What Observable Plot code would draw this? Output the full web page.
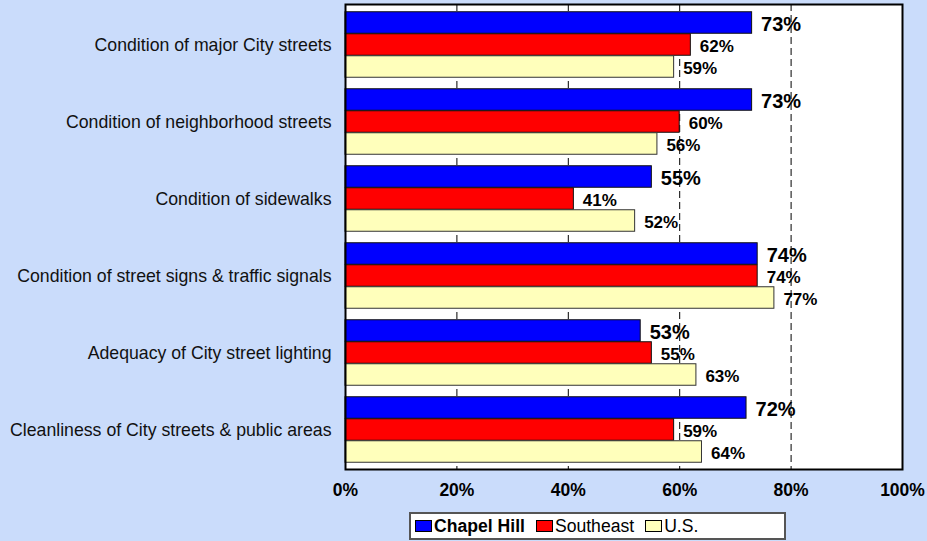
<!DOCTYPE html>
<html>
<head>
<meta charset="utf-8">
<script src="https://cdn.jsdelivr.net/npm/d3@7"></script>
<script src="https://cdn.jsdelivr.net/npm/@observablehq/plot@0.6"></script>
<style>
  html, body { margin: 0; padding: 0; }
  body {
    width: 927px; height: 541px; overflow: hidden; position: relative;
    background: rgb(202, 220, 251);
    font-family: "Liberation Sans", Arial, sans-serif;
  }
  #chart { position: absolute; left: 0; top: 0; }
  #legend {
    position: absolute; left: 409px; top: 512px; width: 369px; height: 24px;
    background: #fff; border: 2px solid #555;
    display: flex; align-items: center; padding-left: 4px; box-sizing: content-box;
    font-size: 17.6px; color: #000;
  }
  .item { display: flex; align-items: center; margin-right: 11px; }
  .key { width: 15px; height: 10px; border: 1px solid #000; margin-right: 2px; }
</style>
</head>
<body>
<div id="chart"></div>
<div id="legend"></div>
<script>
const categories = [
  "Condition of major City streets",
  "Condition of neighborhood streets",
  "Condition of sidewalks",
  "Condition of street signs & traffic signals",
  "Adequacy of City street lighting",
  "Cleanliness of City streets & public areas"
];
const chapelHill = [73, 73, 55, 74, 53, 72];
const southeast  = [62, 60, 41, 74, 55, 59];
const us         = [59, 56, 52, 77, 63, 64];
const seriesNames  = ["Chapel Hill", "Southeast", "U.S."];
const seriesColors = ["#0000FF", "#FF0000", "#FFFFBB"];
const xTicks    = [0, 20, 40, 60, 80, 100];
const gridLines = [20, 40, 60, 80];

const seriesValues = [chapelHill, southeast, us];
const FONT = "Liberation Sans, Arial, sans-serif";

const W = 927, H = 505;
const mTop = 4, mLeft = 345, mRight = 25, mBottom = H - 469;
const band = (H - mBottom - mTop) / categories.length;
const barH = 22;
const off = (band - 3 * barH) / 2;

const marks = [
  Plot.frame({fill: "white", stroke: null}),
  Plot.ruleX(gridLines, {stroke: "#000", strokeWidth: 1, strokeDasharray: "7,4"})
];

seriesValues.forEach((vals, k) => {
  const data = categories.map((c, i) => ({cat: c, value: vals[i]}));
  const insetTop = off + k * barH;
  const insetBottom = band - off - (k + 1) * barH;
  marks.push(Plot.barX(data, {
    x: "value", y: "cat", fill: seriesColors[k],
    stroke: k === 2 ? "#333" : "#111", strokeWidth: 1,
    insetTop, insetBottom
  }));
  marks.push(Plot.text(data, {
    x: "value", y: "cat", text: d => d.value + "%",
    textAnchor: "start", dx: 9,
    dy: (off + k * barH + barH / 2) - band / 2 + 1.5,
    fontSize: k === 0 ? 20 : 17, fontWeight: "bold", fontFamily: FONT, fill: "#000"
  }));
});

marks.push(Plot.frame({stroke: "#000", strokeWidth: 2}));
marks.push(Plot.axisX({ticks: xTicks, tickFormat: d => d + "%", tickSize: 0, tickPadding: 14,
  fontSize: 17.5, fontWeight: "bold", fontFamily: FONT, label: null}));
marks.push(Plot.axisY({tickSize: 0, tickPadding: 14, fontSize: 17.7, fontFamily: FONT, label: null, fill: "#111"}));

const chart = Plot.plot({
  width: W, height: H,
  marginTop: mTop, marginLeft: mLeft, marginRight: mRight, marginBottom: mBottom,
  x: {domain: [0, 100]},
  y: {domain: categories, padding: 0},
  style: {background: "transparent", color: "#000", fontFamily: FONT, overflow: "visible"},
  marks
});
document.getElementById("chart").appendChild(chart);

const legend = document.getElementById("legend");
seriesNames.forEach((name, k) => {
  const item = document.createElement("div");
  item.className = "item";
  const key = document.createElement("div");
  key.className = "key";
  key.style.background = seriesColors[k];
  const label = document.createElement("span");
  label.textContent = name;
  if (k === 0) label.style.fontWeight = "bold";
  item.appendChild(key);
  item.appendChild(label);
  legend.appendChild(item);
});
</script>
</body>
</html>
